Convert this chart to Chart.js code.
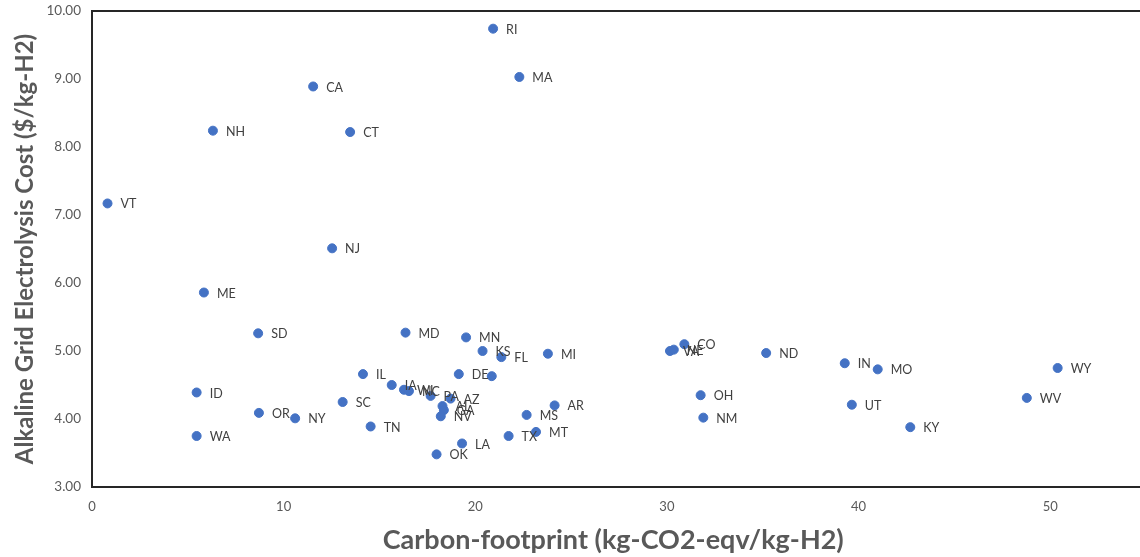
<!DOCTYPE html>
<html>
<head>
<meta charset="utf-8">
<script src="https://cdn.jsdelivr.net/npm/chart.js@4.4.1/dist/chart.umd.min.js"></script>
<style>
  body { margin: 0; background: #fff; }
  #wrap { width: 1140px; height: 557px; }
</style>
</head>
<body>
<div id="wrap"><canvas id="scatter" width="1140" height="557"></canvas></div>
<script>
// state labels, carbon footprint (kg-CO2-eqv/kg-H2) and cost ($/kg-H2)
const states = ["VT", "NH", "CA", "CT", "RI", "MA", "NJ", "ME", "SD", "MD",
  "MN", "KS", "FL", "MI", "IL", "DE", "", "IA", "WI", "NC",
  "PA", "AZ", "AL", "GA", "NV", "SC", "TN", "LA", "OK", "TX",
  "MT", "MS", "AR", "ID", "OR", "NY", "WA", "ND", "IN", "MO",
  "WY", "WV", "OH", "NM", "UT", "KY", "VA", "NE", "CO"];
const carbon = [0.81, 6.31, 11.54, 13.47, 20.93, 22.30, 12.53, 5.84, 8.67, 16.36,
  19.52, 20.38, 21.36, 23.79, 14.14, 19.14, 20.86, 15.64, 16.28, 16.54,
  17.67, 18.71, 18.29, 18.36, 18.20, 13.08, 14.54, 19.31, 17.98, 21.74,
  23.17, 22.68, 24.14, 5.46, 8.71, 10.60, 5.46, 35.18, 39.28, 41.00,
  50.39, 48.78, 31.76, 31.90, 39.65, 42.70, 30.16, 30.36, 30.91];
const cost = [7.17, 8.24, 8.89, 8.22, 9.74, 9.03, 6.51, 5.86, 5.26, 5.27,
  5.20, 5.00, 4.91, 4.96, 4.66, 4.66, 4.63, 4.50, 4.43, 4.41,
  4.34, 4.30, 4.19, 4.13, 4.04, 4.25, 3.89, 3.64, 3.48, 3.75,
  3.81, 4.06, 4.20, 4.39, 4.09, 4.01, 3.75, 4.97, 4.82, 4.73,
  4.75, 4.31, 4.35, 4.02, 4.21, 3.88, 5.00, 5.02, 5.10];
const xTicks = [0, 10, 20, 30, 40, 50];
const yTicks = [3, 4, 5, 6, 7, 8, 9, 10];

const points = carbon.map((c, i) => ({ x: c, y: cost[i] }));

// labels to the right of each dot, like excel data labels
const pointLabels = {
  id: "pointLabels",
  afterDatasetsDraw(chart) {
    const ctx = chart.ctx;
    const meta = chart.getDatasetMeta(0);
    ctx.save();
    ctx.font = "12.5px Lato";
    ctx.fillStyle = "#404040";
    ctx.textAlign = "left";
    ctx.textBaseline = "middle";
    meta.data.forEach((pt, i) => {
      ctx.fillText(states[i], pt.x + 13, pt.y + 1);
    });
    ctx.restore();
  }
};

// plot area frame (left, top, bottom) - right side runs off the picture
const frame = {
  id: "frame",
  beforeDatasetsDraw(chart) {
    const { ctx, chartArea } = chart;
    ctx.save();
    ctx.strokeStyle = "#262626";
    ctx.lineWidth = 2;
    ctx.strokeRect(chartArea.left, chartArea.top, chartArea.right - chartArea.left + 20, chartArea.bottom - chartArea.top);
    ctx.restore();
  }
};

const ctx = document.getElementById("scatter").getContext("2d");
new Chart(ctx, {
  type: "scatter",
  data: {
    datasets: [{
      data: points,
      backgroundColor: "#4472C4",
      borderColor: "#4472C4",
      pointRadius: 4.5,
      pointHoverRadius: 4.5
    }]
  },
  options: {
    responsive: false,
    animation: false,
    layout: { padding: { top: 11, right: 0, left: 0, bottom: 0 } },
    plugins: {
      legend: { display: false },
      tooltip: { enabled: false }
    },
    scales: {
      x: {
        type: "linear",
        min: 0,
        max: 54.4,
        grid: { display: false, drawTicks: false },
        border: { display: false },
        afterBuildTicks: (scale) => { scale.ticks = xTicks.map(v => ({ value: v })); },
        afterFit: (scale) => { scale.height = 70; },
        ticks: {
          padding: 12,
          color: "#595959",
          font: { family: "Lato", size: 13 }
        },
        title: {
          display: true,
          text: "Carbon-footprint (kg-CO2-eqv/kg-H2)",
          color: "#595959",
          font: { family: "Lato", size: 27, weight: "bold" },
          padding: { bottom: 1 }
        }
      },
      y: {
        type: "linear",
        min: 3,
        max: 10,
        grid: { display: false, drawTicks: false },
        border: { display: false },
        afterBuildTicks: (scale) => { scale.ticks = yTicks.map(v => ({ value: v })); },
        afterFit: (scale) => {
          scale.width = 92;
          scale.paddingTop = 0;
          scale.paddingBottom = 0;
        },
        ticks: {
          padding: 11,
          color: "#595959",
          font: { family: "Lato", size: 13.5 },
          callback: (v) => Number(v).toFixed(2)
        },
        title: {
          display: true,
          text: "Alkaline Grid Electrolysis Cost ($/kg-H2)",
          color: "#595959",
          font: { family: "Lato", size: 24, weight: "bold" },
          padding: { top: 11 }
        }
      }
    }
  },
  plugins: [frame, pointLabels]
});
</script>
</body>
</html>
